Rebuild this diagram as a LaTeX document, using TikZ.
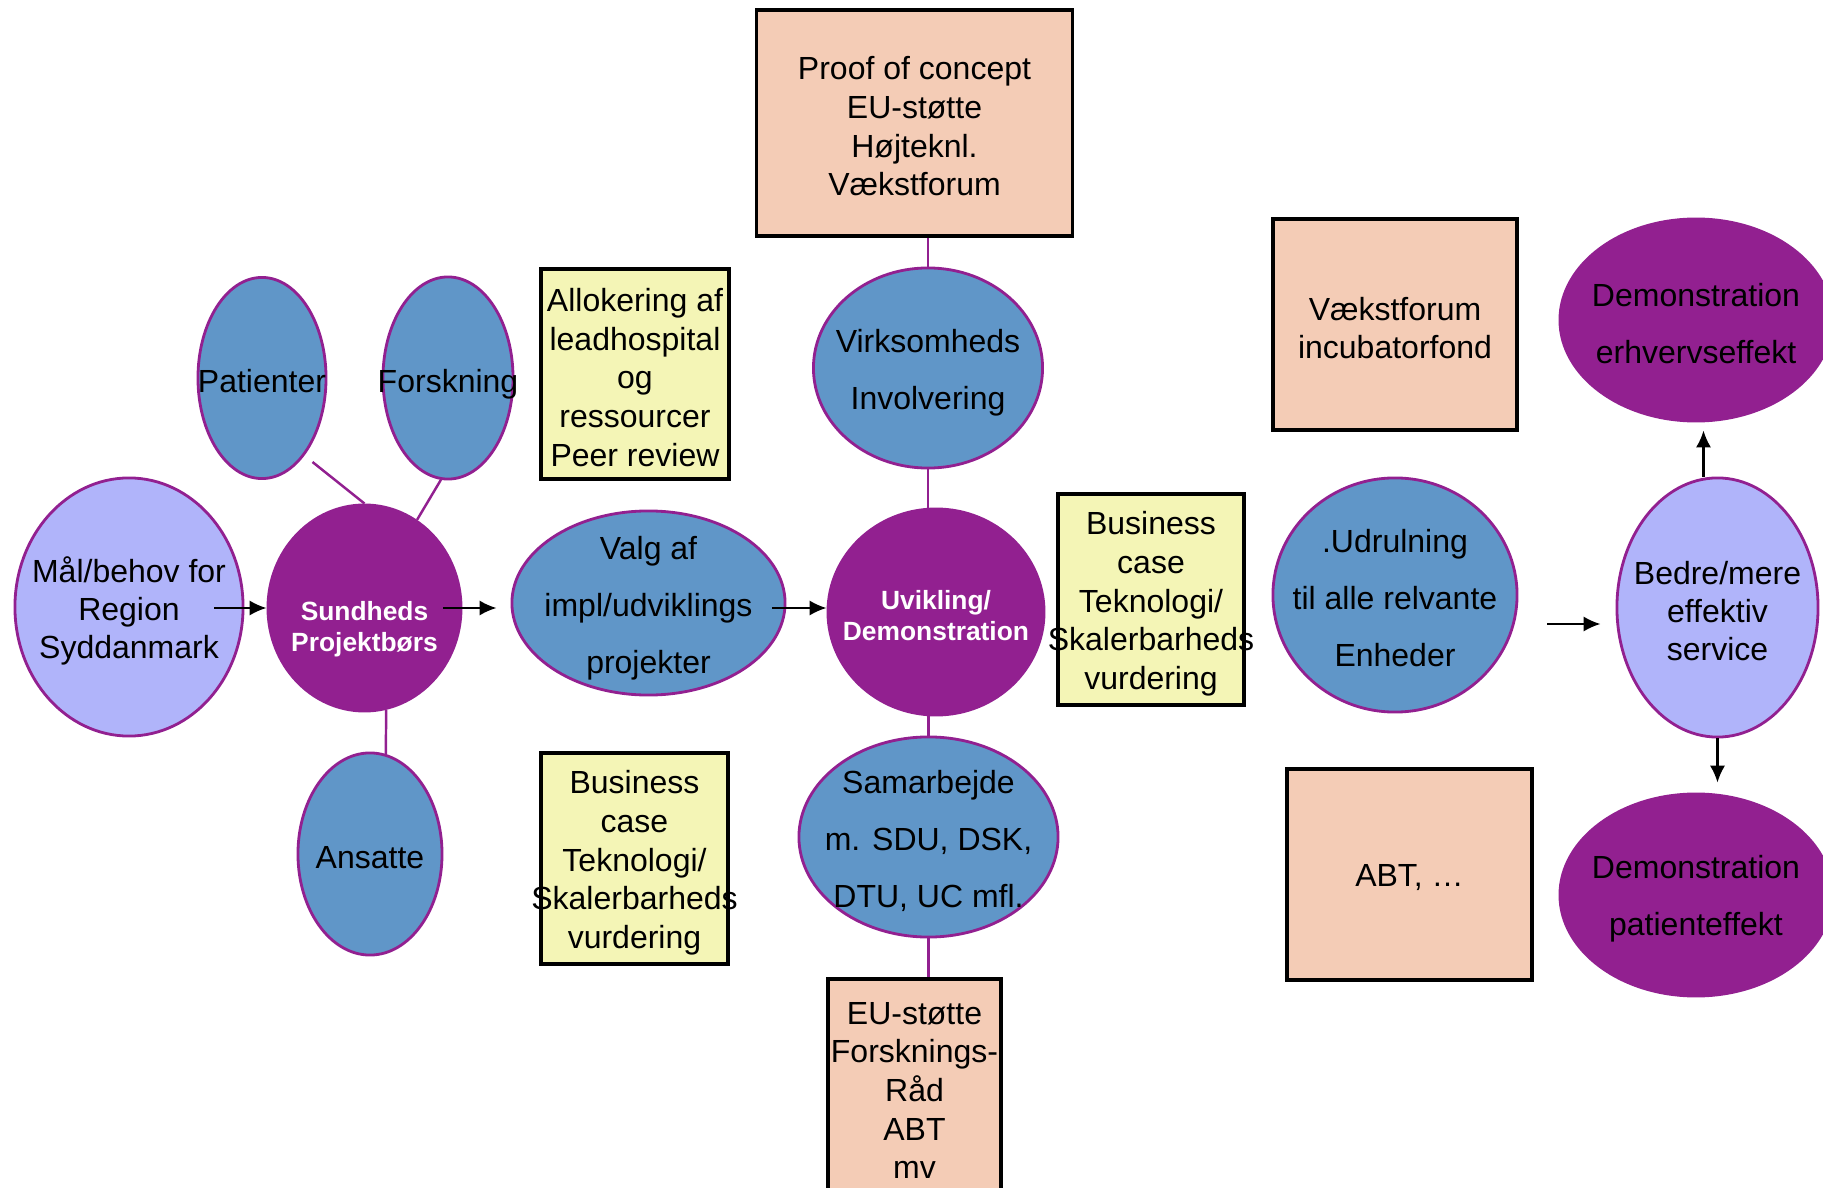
\documentclass[tikz,border=0pt]{standalone}
\usepackage{fontspec}
\setmainfont{Liberation Sans}
\usetikzlibrary{shapes.geometric,arrows.meta,calc}
\definecolor{purp}{HTML}{922090}
\definecolor{blu}{HTML}{6096C8}
\definecolor{lav}{HTML}{B0B4FA}
\definecolor{peach}{HTML}{F4CCB6}
\definecolor{yel}{HTML}{F4F5B6}
\tikzset{
  sz/.style 2 args={minimum width=#1cm, minimum height=#2cm},
  ell/.style={ellipse, draw=purp, line width=0.8pt, inner sep=0pt},
  box/.style={rectangle, draw=black, line width=0.9pt, inner sep=0pt},
  txt/.style={align=center, inner sep=0pt, text=black, yshift=-0.035cm,
              font=\fontsize{9.1}{11}\selectfont},
  etxt/.style={txt, font=\fontsize{9.1}{16.2}\selectfont},
  mtxt/.style={txt, font=\fontsize{9.1}{10.8}\selectfont},
  btxt/.style={align=center, inner sep=0pt, text=white, yshift=-0.035cm,
               font=\fontsize{7.5}{9}\selectfont\bfseries},
  link/.style={draw=purp, line width=0.7pt},
  arr/.style={-{Latex[length=4.8pt,width=4.3pt]}, line width=0.6pt, draw=black}
}
\begin{document}
\begin{tikzpicture}[x=0.01cm,y=-0.01cm]
\useasboundingbox (0,0) rectangle (1823,1188);
\clip (0,0) rectangle (1823,1188);

% ellipses
\node[ell, fill=blu, sz={1.28}{2.01}, label={[txt]center:Patienter}] (pat) at (262,378) {};
\node[ell, fill=blu, sz={1.30}{2.02}, label={[txt,yshift=-0.03cm]center:Forskning}] (fors) at (448,378) {};
\node[ell, fill=lav, sz={2.28}{2.58}, label={[mtxt]center:{Mål/behov for\\Region\\Syddanmark}}] (mal) at (129,607) {};
\node[ell, fill=purp, sz={1.93}{2.06}, label={[btxt,yshift=-0.175cm]center:{Sundheds\\Projektbørs}}] (sund) at (364.5,608) {};
\node[ell, fill=blu, sz={1.44}{2.02}, label={[txt]center:Ansatte}] (ans) at (370,854) {};
\node[ell, fill=blu, sz={2.73}{1.84}, label={[etxt,yshift=-0.015cm]center:{Valg af\\impl/udviklings\\projekter}}] (valg) at (648.5,603) {};
\node[ell, fill=blu, sz={2.29}{2.00}, label={[etxt,yshift=-0.015cm]center:{Virksomheds\\Involvering}}] (virk) at (928,368) {};
\node[ell, fill=purp, sz={2.16}{2.06}, label={[btxt]center:{Uvikling/\\Demonstration}}] (uvik) at (936,612) {};
\node[ell, fill=blu, sz={2.59}{2.00}, label={[etxt]center:{Samarbejde\\m. SDU, DSK,\\DTU, UC mfl.}}] (samar) at (928.5,837) {};
\node[ell, fill=blu, sz={2.44}{2.34}, label={[etxt]center:{.Udrulning\\til alle relvante\\Enheder}}] (udr) at (1395,595) {};
\node[ell, fill=lav, sz={2.01}{2.59}, label={[mtxt]center:{Bedre/mere\\effektiv\\service}}] (bedre) at (1717.5,607.5) {};
\node[ell, fill=purp, sz={2.72}{2.02}, label={[etxt]center:{Demonstration\\erhvervseffekt}}] (demoE) at (1696,320) {};
\node[ell, fill=purp, sz={2.72}{2.02}, label={[etxt]center:{Demonstration\\patienteffekt}}] (demoP) at (1696,895) {};

% boxes
\node[box, fill=peach, sz={3.15}{2.26}, label={[txt]center:{Proof of concept\\EU-støtte\\Højteknl.\\Vækstforum}}] (proof) at (914.5,123) {};
\node[box, fill=yel, sz={1.88}{2.10}, label={[txt]center:{Allokering af\\leadhospital\\og\\ressourcer\\Peer review}}] (allo) at (635,374) {};
\node[box, fill=yel, sz={1.87}{2.11}, label={[txt,yshift=-0.01cm]center:{Business\\case\\Teknologi/\\Skalerbarheds\\vurdering}}] (bcl) at (634.5,858.5) {};
\node[box, fill=yel, sz={1.86}{2.11}, label={[txt,yshift=-0.01cm]center:{Business\\case\\Teknologi/\\Skalerbarheds\\vurdering}}] (bcr) at (1151,599.5) {};
\node[box, fill=peach, sz={2.44}{2.11}, label={[txt]center:{Vækstforum\\incubatorfond}}] (vf) at (1395,324.5) {};
\node[box, fill=peach, sz={2.45}{2.11}, label={[txt]center:{ABT, …}}] (abt) at (1409.5,874.5) {};
\node[box, fill=peach, sz={1.73}{2.16}, label={[txt]center:{EU-støtte\\Forsknings-\\Råd\\ABT\\mv}}] (eu) at (914.5,1087) {};

% purple links
\coordinate (patend) at (312.5,462);
\draw[link] (patend) -- (sund.north);
\draw[link] (fors.-94) -- (sund);
\draw[link] (sund.-78) -- (ans.81);
\draw[link] (virk.north) -- (virk.north |- proof.south);
\draw[link] (virk.south) -- (virk.south |- uvik.north);
\draw[link] (samar.north) -- (samar.north |- uvik.south);
\draw[link] (samar.south) -- (samar.south |- eu.north);

% arrows
\draw[arr] ($(mal.east |- sund.west)+(-30,0)$) -- (sund.west);
\draw[arr] ($(sund.east)+(-19,0)$) -- ($(valg.west |- sund.east)+(-14,0)$);
\draw[arr] ($(valg.east |- uvik.west)+(-14,-4)$) -- ($(uvik.west)+(0,-4)$);
\draw[arr] ($(udr.east)+(29,29)$) -- ($(bedre.west |- udr.east)+(-15,29)$);
\draw[arr] ($(bedre.north)+(-14,0)$) -- ($(bedre.north)+(-14,-46)$);
\draw[arr] (bedre.south) -- ($(bedre.south |- demoP.north)+(0,-10)$);
\end{tikzpicture}
\end{document}
